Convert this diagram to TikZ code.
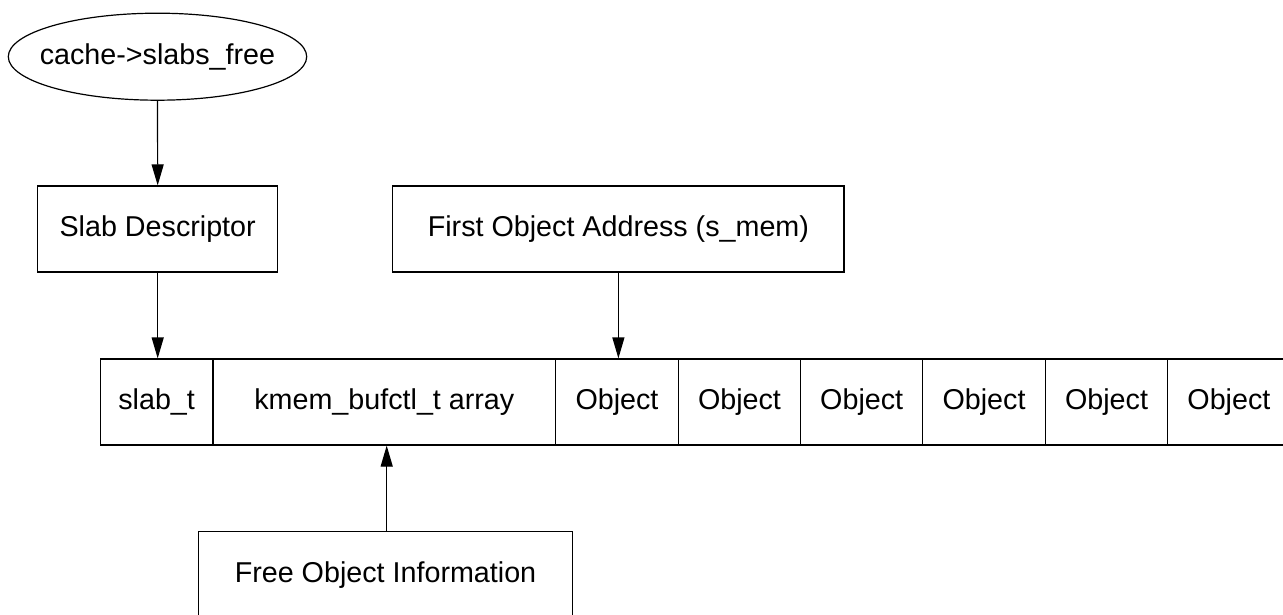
\documentclass[tikz,border=0pt]{standalone}
\usepackage{fontspec}
\setmainfont{Liberation Sans}
\usetikzlibrary{shapes.geometric,arrows.meta}
\tikzset{
  label text/.style={font=\fontsize{28.7}{34}\selectfont, inner sep=0pt},
  box/.style={draw=black, line width=1.2pt, rectangle, inner sep=0pt,
              minimum height=86pt, label text},
  cell/.style={box},
  oval/.style={draw=black, line width=1.2pt, ellipse, inner sep=0pt,
               minimum width=298.4pt, minimum height=87pt},
  link/.style={draw=black, line width=1.2pt,
               -{Triangle[length=21pt,width=12pt]}}
}
\begin{document}
\begin{tikzpicture}[x=1pt,y=-1pt]
\useasboundingbox (0,0) rectangle (1283,615);
\clip (0,0) rectangle (1283,615);

% pointer from the cache's free list
\node[oval] (cache) at (157.5,56.7) {};
\node[label text] (cachetext) at (cache.center) {cache->slabs\_free};

% descriptor boxes
\node[box, minimum width=240pt] (sd) at (157.7,229) {Slab Descriptor};
\node[box, minimum width=451.3pt] (foa) at (618.4,229) {First Object Address (s\_mem)};

% slab memory layout
\node[cell, minimum width=112.7pt] (slabt) at (156.65,402) {slab\_t};
\node[cell, minimum width=342.7pt] (kmem) at (384.35,402) {kmem\_bufctl\_t array};
\node[cell, minimum width=122.6pt] (o1) at (617.0,402) {Object};
\node[cell, minimum width=122.4pt] (o2) at (739.5,402) {Object};
\node[cell, minimum width=122.0pt] (o3) at (861.7,402) {Object};
\node[cell, minimum width=122.6pt] (o4) at (984.0,402) {Object};
\node[cell, minimum width=122.4pt] (o5) at (1106.5,402) {Object};
\node[cell, minimum width=122.4pt] (o6) at (1228.9,402) {Object};

% free object bookkeeping
\node[box, minimum width=374.4pt] (foi) at (385.5,574.7) {Free Object Information};

% connectors
\draw[link] (cache.south) -- (sd.north);
\draw[link] (sd.south) -- (sd.south |- slabt.north);
\draw[link] (foa.south) -- (foa.south |- o1.north);
\draw[link] ([xshift=1.2pt]foi.north) -- ([xshift=1.2pt]foi.north |- kmem.south);
\end{tikzpicture}
\end{document}
